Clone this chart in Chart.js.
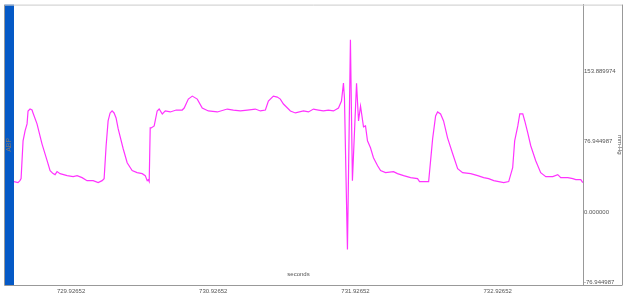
<!DOCTYPE html>
<html>
<head>
<meta charset="utf-8">
<script src="https://cdn.jsdelivr.net/npm/chart.js@4"></script>
<style>
  html, body { margin: 0; padding: 0; background: #fff; }
  #wrap { width: 627px; height: 303px; }
</style>
</head>
<body>
<div id="wrap"><canvas id="abpChart" width="627" height="303"></canvas></div>
<script>
// ─── DATA ─────────────────────────────────────────────────────────────────────
const SERIES_NAME = 'ABP';
const UNIT = 'mm-Hg';
const X_TITLE = 'seconds';

// sample times (s) and arterial pressure (mm-Hg)
const times = [
  729.525, 729.553, 729.567, 729.575, 729.589, 729.603, 729.617, 729.624, 729.638, 729.652,
  729.659, 729.687, 729.722, 729.758, 729.779, 729.800, 729.814, 729.828, 729.849, 729.899,
  729.941, 729.969, 730.004, 730.039, 730.082, 730.117, 730.145, 730.159, 730.173, 730.187,
  730.201, 730.215, 730.229, 730.243, 730.258, 730.293, 730.321, 730.356, 730.391, 730.427,
  730.448, 730.462, 730.469, 730.476, 730.483, 730.490, 730.511, 730.532, 730.546, 730.568,
  730.589, 730.624, 730.666, 730.708, 730.722, 730.751, 730.779, 730.814, 730.849, 730.892,
  730.955, 731.025, 731.068, 731.117, 731.166, 731.222, 731.258, 731.293, 731.314, 731.349,
  731.377, 731.398, 731.420, 731.469, 731.504, 731.561, 731.596, 731.631, 731.666, 731.701,
  731.736, 731.772, 731.807, 731.828, 731.842, 731.849, 731.870, 731.891, 731.905, 731.934,
  731.948, 731.962, 731.983, 731.997, 732.011, 732.032, 732.053, 732.082, 732.103, 732.138,
  732.194, 732.222, 732.265, 732.314, 732.363, 732.377, 732.441, 732.469, 732.490, 732.504,
  732.525, 732.546, 732.574, 732.610, 732.645, 732.680, 732.737, 732.786, 732.828, 732.863,
  732.899, 732.969, 733.004, 733.032, 733.046, 733.068, 733.082, 733.103, 733.117, 733.138,
  733.159, 733.194, 733.229, 733.265, 733.314, 733.349, 733.370, 733.420, 733.455, 733.476,
  733.511, 733.525
];
const abp = [
  36.6, 35.5, 37.6, 39.8, 81.3, 92.2, 99.9, 114.1, 116.2, 115.1,
  111.9, 99.9, 78.0, 59.5, 48.6, 45.3, 44.2, 47.5, 45.3, 43.1,
  42.0, 43.1, 40.9, 37.6, 37.6, 35.5, 37.6, 39.8, 75.9, 103.1,
  111.9, 114.1, 111.9, 106.4, 94.4, 72.6, 57.3, 48.6, 46.4, 45.3,
  43.1, 37.6, 38.7, 36.6, 95.5, 95.5, 97.7, 114.1, 116.2, 110.8,
  114.1, 113.0, 115.1, 115.1, 117.3, 127.1, 130.4, 127.1, 117.3, 114.1,
  113.0, 116.2, 115.1, 114.1, 115.1, 116.2, 114.1, 115.1, 125.0, 130.4,
  129.3, 127.1, 121.7, 114.1, 111.9, 114.1, 113.0, 116.2, 115.1, 114.1,
  115.1, 114.1, 117.3, 125.0, 144.6, 128.2, -38.0, 192.3, 37.6, 144.6,
  103.1, 119.5, 96.6, 97.7, 81.3, 73.7, 62.8, 54.0, 48.6, 46.4,
  47.5, 45.3, 43.1, 40.9, 39.8, 36.6, 36.6, 83.5, 108.6, 113.0,
  110.8, 103.1, 84.6, 67.1, 50.8, 46.4, 45.3, 43.1, 40.9, 39.8,
  37.6, 35.5, 36.6, 51.8, 81.3, 97.7, 110.8, 110.8, 103.1, 90.0,
  75.9, 59.5, 46.4, 42.0, 42.0, 44.2, 40.9, 40.9, 39.8, 38.7,
  38.7, 35.5
];

const xTicks = [729.92652, 730.92652, 731.92652, 732.92652];
const yTicks = [-76.944987, 0.000000, 76.944987, 153.889974];
const X_MIN = 729.5252, X_MAX = 733.5265;
const Y_MIN = -76.944987, Y_MAX = 230.834961;

// ─── CHART ────────────────────────────────────────────────────────────────────
const FONT = '"Liberation Sans", Arial, sans-serif';
const TXT = '#555';

const framePlugin = {
  id: 'frame',
  beforeDraw(chart) {
    const { ctx, chartArea: a, scales } = chart;
    const side = scales.yL;
    ctx.save();
    ctx.fillStyle = '#0559c6';
    ctx.fillRect(side.left, a.top, a.left - side.left, a.bottom - a.top);
    ctx.restore();
  },
  afterDraw(chart) {
    const { ctx, chartArea: a, scales } = chart;
    const l = scales.yL.left - 0.5, r = scales.y.right - 0.5;
    ctx.save();
    ctx.lineWidth = 1;
    ctx.strokeStyle = '#ccc';
    ctx.beginPath(); ctx.moveTo(l, a.top + 0.5); ctx.lineTo(r, a.top + 0.5); ctx.stroke();
    ctx.strokeStyle = '#999';
    ctx.beginPath();
    ctx.moveTo(l, a.top); ctx.lineTo(l, a.bottom + 0.5); ctx.lineTo(r, a.bottom + 0.5);
    ctx.moveTo(r, a.top); ctx.lineTo(r, a.bottom);
    ctx.stroke();
    ctx.fillStyle = TXT;
    ctx.font = '6px ' + FONT;
    ctx.textAlign = 'center';
    ctx.textBaseline = 'middle';
    ctx.fillText(X_TITLE, (a.left + a.right) / 2, a.bottom - 11);
    ctx.restore();
  }
};

new Chart(document.getElementById('abpChart'), {
  type: 'line',
  data: {
    datasets: [{
      label: SERIES_NAME,
      data: times.map((t, i) => ({ x: t, y: abp[i] })),
      borderColor: '#ff33ff',
      borderWidth: 1.2,
      pointRadius: 0,
      tension: 0,
      fill: false,
      yAxisID: 'y'
    }]
  },
  options: {
    responsive: false,
    animation: false,
    layout: { padding: { left: 5, top: 3, right: 4, bottom: 6 } },
    plugins: { legend: { display: false }, tooltip: { enabled: false } },
    scales: {
      x: {
        type: 'linear', position: 'bottom', min: X_MIN, max: X_MAX,
        afterBuildTicks: s => { s.ticks = xTicks.map(v => ({ value: v })); },
        afterFit: s => { s.height = 12; },
        grid: { display: false, drawTicks: false },
        border: { display: true, color: '#999' },
        ticks: { padding: 3, color: TXT, font: { size: 6, family: FONT }, maxRotation: 0, callback: v => v.toFixed(5) }
      },
      y: {
        type: 'linear', position: 'right', min: Y_MIN, max: Y_MAX,
        afterBuildTicks: s => { s.ticks = yTicks.map(v => ({ value: v })); },
        afterFit: s => { s.width = 40; },
        grid: { display: false, drawTicks: false },
        border: { display: true, color: '#999' },
        ticks: { padding: 1, labelOffset: -3, color: TXT, font: { size: 6, family: FONT }, callback: v => v.toFixed(6) },
        title: { display: true, text: UNIT, color: TXT, padding: 0, font: { size: 6, family: FONT } }
      },
      yL: {
        type: 'linear', position: 'left', min: Y_MIN, max: Y_MAX,
        afterFit: s => { s.width = 9; },
        grid: { display: false, drawTicks: false },
        border: { display: false },
        ticks: { display: false },
        title: { display: true, text: SERIES_NAME, color: '#85786a', padding: 0, font: { size: 7, family: FONT } }
      }
    }
  },
  plugins: [framePlugin]
});
</script>
</body>
</html>
